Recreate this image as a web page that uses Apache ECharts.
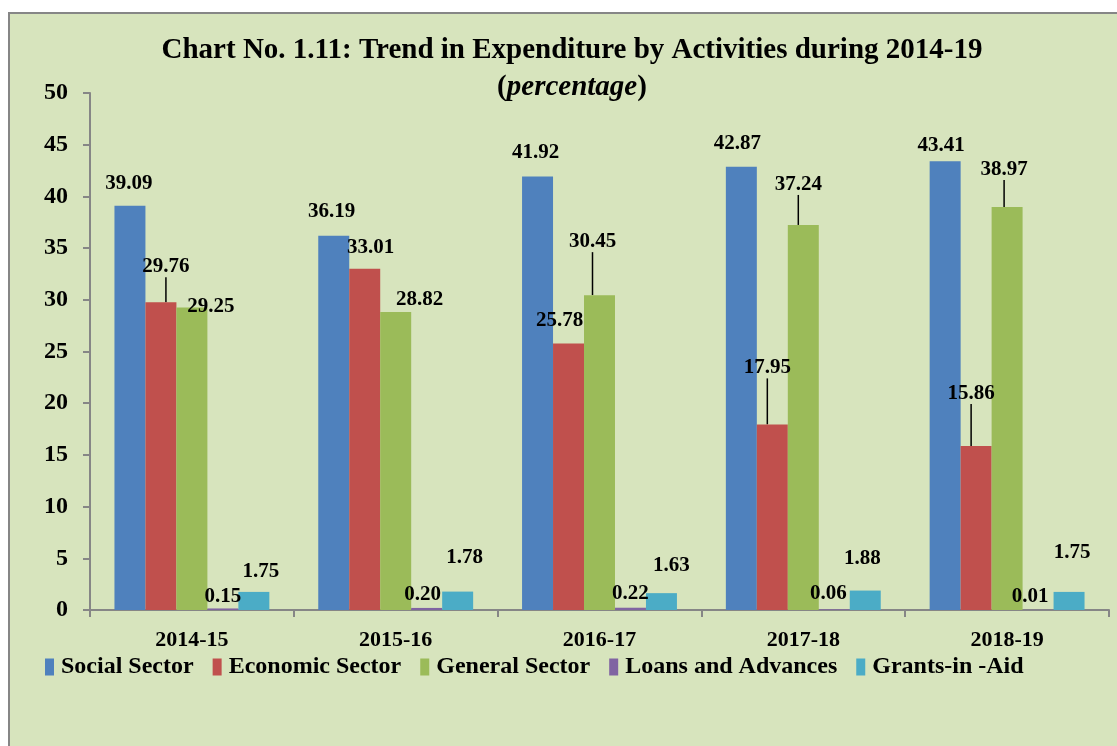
<!DOCTYPE html>
<html>
<head>
<meta charset="utf-8">
<title>Chart No. 1.11</title>
<script src="https://cdn.jsdelivr.net/npm/echarts@6/dist/echarts.min.js"></script>
<style>
	html, body { margin: 0; padding: 0; background: #fff; }
	#chart { width: 1117px; height: 746px; }
</style>
</head>
<body>
<div id="chart"></div>
<script>
	// data (percentage)
	var categories = ['2014-15', '2015-16', '2016-17', '2017-18', '2018-19'];
	var socialSector = [39.09, 36.19, 41.92, 42.87, 43.41];
	var economicSector = [29.76, 33.01, 25.78, 17.95, 15.86];
	var generalSector = [29.25, 28.82, 30.45, 37.24, 38.97];
	var loansAdvances = [0.15, 0.20, 0.22, 0.06, 0.01];
	var grantsInAid = [1.75, 1.78, 1.63, 1.88, 1.75];
	var yMin = 0, yMax = 50, yStep = 5;

	var FONT = '"Liberation Serif", "Times New Roman", serif';

	// label nudges [dx, dy] per bar, and which labels carry a leader line
	var labelShift = [
		[[-1, -7], [-2, -9], [-2, -8], [-4, -8], [-4, 0]],
		[[5, -20], [6, -6], [-9, -7], [-5, -41], [-5, -37]],
		[[19, 15], [24, 3], [-7, -38], [-5, -25], [-3, -22]],
		[[0, 4], [-4, 2], [0, 1], [-6, 0], [-8, 2]],
		[[7, -5], [7, -19], [10, -12], [-3, -16], [3, -24]]
	];
	var leader = [
		[0, 0, 0, 0, 0],
		[1, 0, 0, 1, 1],
		[0, 0, 1, 1, 1],
		[0, 0, 0, 0, 0],
		[0, 0, 0, 0, 0]
	];

	function makeSeries(name, values, color, idx) {
		return {
			name: name,
			type: 'bar',
			barGap: '0%',
			barCategoryGap: '24%',
			itemStyle: { color: color },
			data: values.map(function (v, i) {
				return { value: v, labelLine: { show: !!leader[idx][i] } };
			}),
			label: {
				show: true,
				position: 'top',
				color: '#000',
				fontFamily: FONT,
				fontWeight: 'bold',
				fontSize: 21,
				formatter: function (p) { return p.value.toFixed(2); }
			},
			labelLine: {
				lineStyle: { color: '#000', width: 1.5 }
			},
			labelLayout: function (p) {
				var s = labelShift[idx][p.dataIndex];
				return { dx: s[0], dy: s[1] };
			}
		};
	}

	var chart = echarts.init(document.getElementById('chart'));
	chart.setOption({
		backgroundColor: '#fff',
		animation: false,
		graphic: [{
			type: 'rect',
			z: -10,
			silent: true,
			shape: { x: 9, y: 13, width: 1130, height: 760 },
			style: { fill: '#D7E4BD', stroke: '#868686', lineWidth: 2 }
		}],
		title: {
			left: 567,
			top: 27,
			textAlign: 'center',
			text: '{a|Chart No. 1.11: Trend in Expenditure by Activities during 2014-19}\n{b|(}{c|percentage}{b|)}',
			textStyle: {
				rich: {
					a: { fontFamily: FONT, fontWeight: 'bold', fontSize: 29, color: '#000', lineHeight: 37 },
					b: { fontFamily: FONT, fontWeight: 'bold', fontSize: 29, color: '#000', lineHeight: 37 },
					c: { fontFamily: FONT, fontWeight: 'bold', fontStyle: 'italic', fontSize: 29, color: '#000', lineHeight: 37 }
				}
			}
		},
		legend: {
			left: 45,
			top: 655,
			padding: 0,
			itemWidth: 9,
			itemHeight: 17,
			itemGap: 19,
			icon: 'rect',
			textStyle: { fontFamily: FONT, fontWeight: 'bold', fontSize: 24, color: '#000', padding: [0, 0, 0, 2] },
			data: ['Social Sector', 'Economic Sector', 'General Sector', 'Loans and Advances', 'Grants-in -Aid']
		},
		grid: { left: 90, right: 8, top: 93, bottom: 136, containLabel: false },
		xAxis: {
			type: 'category',
			data: categories,
			axisLine: { lineStyle: { color: '#868686', width: 2 } },
			axisTick: { show: true, length: 7, lineStyle: { color: '#868686', width: 2 } },
			axisLabel: { color: '#000', fontFamily: FONT, fontWeight: 'bold', fontSize: 22, margin: 19 }
		},
		yAxis: {
			type: 'value',
			min: yMin,
			max: yMax,
			interval: yStep,
			splitLine: { show: false },
			axisLine: { show: true, lineStyle: { color: '#868686', width: 2 } },
			axisTick: { show: true, length: 7, lineStyle: { color: '#868686', width: 2 } },
			axisLabel: { color: '#000', fontFamily: FONT, fontWeight: 'bold', fontSize: 24, margin: 22 }
		},
		series: [
			makeSeries('Social Sector', socialSector, '#4F81BD', 0),
			makeSeries('Economic Sector', economicSector, '#C0504D', 1),
			makeSeries('General Sector', generalSector, '#9BBB59', 2),
			makeSeries('Loans and Advances', loansAdvances, '#8064A2', 3),
			makeSeries('Grants-in -Aid', grantsInAid, '#4BACC6', 4)
		]
	});
</script>
</body>
</html>
